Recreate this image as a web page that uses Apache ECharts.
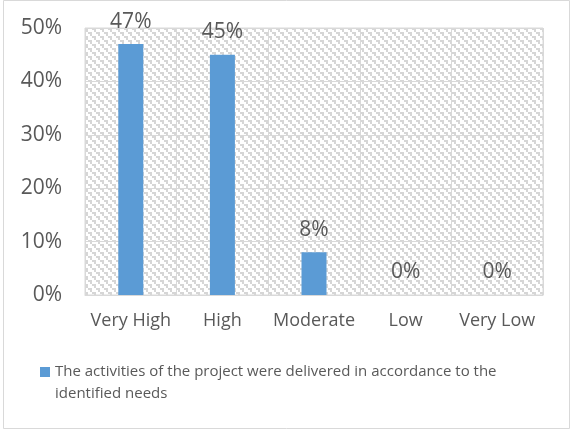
<!DOCTYPE html>
<html>
<head>
<meta charset="utf-8">
<script src="https://cdn.jsdelivr.net/npm/echarts@6/dist/echarts.min.js"></script>
<style>
  html, body { margin: 0; padding: 0; background: #fff; }
  #chart { width: 572px; height: 433px; }
</style>
</head>
<body>
<div id="chart"></div>
<script>
// Rating categories and share of responses (percent)
const categories = ['Very High', 'High', 'Moderate', 'Low', 'Very Low'];
const shares = [47, 45, 8, 0, 0];
const seriesName = 'The activities of the project were delivered in accordance to the identified needs';
const yTicks = [0, 10, 20, 30, 40, 50];

const FONT = '"Open Sans", sans-serif';
const TEXT = '#595959';
const LINE = '#d9d9d9';

// Light grey stepped-diagonal fill for the plot area (2px blocks)
function makeHatch() {
  const c = document.createElement('canvas');
  c.width = 8; c.height = 8;
  const ctx = c.getContext('2d');
  ctx.fillStyle = '#ffffff';
  ctx.fillRect(0, 0, 8, 8);
  ctx.fillStyle = '#d6d6d6';
  for (let cy = 0; cy < 4; cy++) {
    for (let cx = 0; cx < 4; cx++) {
      const d = ((cx - cy) % 4 + 4) % 4;
      if (d === 0 || (d === 1 && cy % 2 === 0)) ctx.fillRect(cx * 2, cy * 2, 2, 2);
    }
  }
  return c;
}

const chart = echarts.init(document.getElementById('chart'), null, { renderer: 'canvas' });
chart.setOption({
  animation: false,
  backgroundColor: '#ffffff',
  graphic: [{
    type: 'rect',
    shape: { x: 3.5, y: 0.5, width: 566, height: 428 },
    style: { fill: 'none', stroke: LINE, lineWidth: 1 },
    silent: true
  }],
  grid: {
    left: 85, right: 29, top: 28, bottom: 138,
    show: true,
    backgroundColor: { image: makeHatch(), repeat: 'repeat' },
    borderColor: LINE,
    borderWidth: 1
  },
  legend: {
    left: 40, top: 339,
    padding: 0,
    itemWidth: 10, itemHeight: 10,
    icon: 'rect',
    // leading blank line keeps the marker level with the first text line
    formatter: (name) => '\n' + name,
    textStyle: {
      fontFamily: FONT, fontSize: 15, color: TEXT,
      width: 450, overflow: 'break', lineHeight: 22
    },
    data: [seriesName]
  },
  xAxis: {
    type: 'category',
    data: categories,
    axisLine: { show: true, lineStyle: { color: LINE } },
    axisTick: { show: false },
    splitLine: { show: true, lineStyle: { color: LINE } },
    axisLabel: { interval: 0, fontFamily: FONT, fontSize: 18, color: TEXT, margin: 17 }
  },
  yAxis: {
    type: 'value',
    min: yTicks[0],
    max: yTicks[yTicks.length - 1],
    interval: 10,
    axisLine: { show: false },
    axisTick: { show: false },
    splitLine: { show: true, lineStyle: { color: LINE } },
    axisLabel: { fontFamily: FONT, fontSize: 21, color: TEXT, margin: 23, formatter: '{value}%' }
  },
  series: [{
    name: seriesName,
    type: 'bar',
    data: shares,
    barWidth: 25,
    itemStyle: { color: '#5b9bd5' },
    label: {
      show: true,
      position: 'top',
      distance: 12,
      fontFamily: FONT, fontSize: 21, color: TEXT,
      formatter: '{c}%'
    }
  }]
});
</script>
</body>
</html>
